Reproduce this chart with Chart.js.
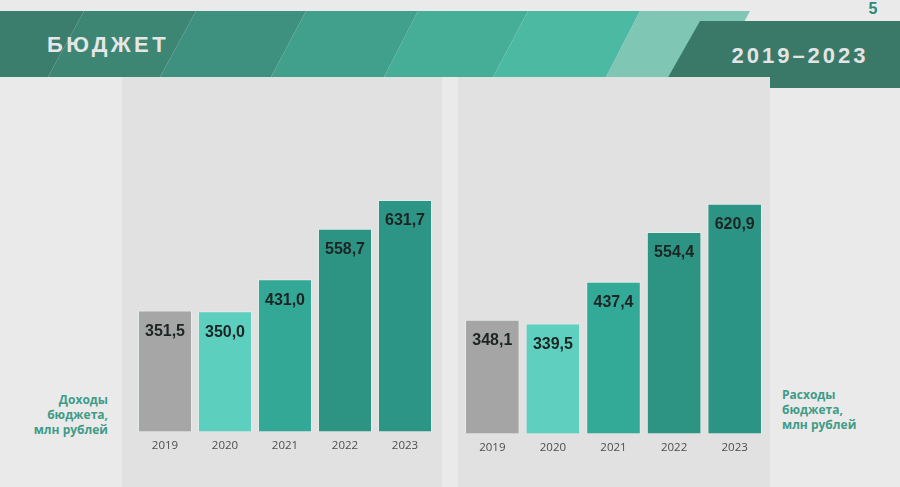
<!DOCTYPE html>
<html lang="ru">
<head>
<meta charset="utf-8">
<title>Бюджет 2019–2023</title>
<script src="https://cdn.jsdelivr.net/npm/chart.js@4.4.1/dist/chart.umd.min.js"></script>
<style>
    html, body { margin: 0; padding: 0; }
    body {
        width: 900px; height: 487px; position: relative; overflow: hidden;
        background: #eaeaea;
        font-family: "Open Sans", Arial, sans-serif;
    }
    #header { position: absolute; left: 0; top: 0; }
    .panel { position: absolute; top: 77px; height: 410px; background: #e1e1e1; }
    #panelLeft { left: 122px; width: 320px; }
    #panelRight { left: 458px; width: 312px; }
    .panel canvas { position: absolute; left: 0; top: 0; }
    .side-label {
        position: absolute;
        font: bold 12px/15px "Open Sans", sans-serif;
        color: #3f9b87;
    }
    #incomeLabel { right: 792px; top: 392px; text-align: right; }
    #expenseLabel { left: 782px; top: 387px; text-align: left; }
</style>
</head>
<body>

<svg id="header" width="900" height="95" xmlns="http://www.w3.org/2000/svg">
    <polygon points="0,11 84,11 48,77 0,77" fill="#3c7e6d"/>
    <polygon points="84,11 196,11 160,77 48,77" fill="#3e8674"/>
    <polygon points="196,11 306,11 271,77 160,77" fill="#3d917e"/>
    <polygon points="306,11 418,11 384,77 271,77" fill="#41a08b"/>
    <polygon points="418,11 528,11 493,77 384,77" fill="#46ad97"/>
    <polygon points="528,11 640,11 606,77 493,77" fill="#4cb9a3"/>
    <polygon points="640,11 750,11 714,77 606,77" fill="#7fc6b4"/>
    <polygon points="700,21 900,21 900,88 662,88" fill="#3a7868"/>
    <text x="47" y="52" fill="#e6e6e6" font-family="Liberation Sans, Arial, sans-serif"
          font-weight="bold" font-size="22" letter-spacing="3.4">БЮДЖЕТ</text>
    <text x="800" y="63" fill="#e4e4e4" text-anchor="middle" font-family="Liberation Sans, Arial, sans-serif"
          font-weight="bold" font-size="22" letter-spacing="3">2019–2023</text>
    <text x="873" y="14" fill="#2e8a78" text-anchor="middle" font-family="Liberation Sans, Arial, sans-serif"
          font-weight="bold" font-size="16">5</text>
</svg>

<div class="panel" id="panelLeft"><canvas id="incomeChart" width="320" height="410"></canvas></div>
<div class="panel" id="panelRight"><canvas id="expenseChart" width="312" height="410"></canvas></div>

<div class="side-label" id="incomeLabel">Доходы<br>бюджета,<br>млн рублей</div>
<div class="side-label" id="expenseLabel">Расходы<br>бюджета,<br>млн рублей</div>

<script>
// Years on the x axis
const years = ['2019', '2020', '2021', '2022', '2023'];

// Budget income, mln roubles
const incomeValues = [351.5, 350.0, 431.0, 558.7, 631.7];

// Budget expenses, mln roubles
const expenseValues = [348.1, 339.5, 437.4, 554.4, 620.9];

// One colour per year
const incomeColors = ['#a6a6a6', '#5ccfbf', '#33a897', '#2d9383', '#2c9585'];
const expenseColors = ['#a5a5a5', '#5fd0c0', '#33a998', '#2d9484', '#2c9484'];

/**
 * Format a number the Russian way: one decimal, comma separator
 */
function formatValue(value) {
    return value.toFixed(1).replace('.', ',');
}

/**
 * Draw the value inside the top of every bar
 */
const barValueLabels = {
    id: 'barValueLabels',
    afterDatasetsDraw(chart) {
        const ctx = chart.ctx;
        const meta = chart.getDatasetMeta(0);
        const values = chart.data.datasets[0].data;
        ctx.save();
        ctx.font = 'bold 16px "Liberation Sans", Arial, sans-serif';
        ctx.fillStyle = '#1d2524';
        ctx.textAlign = 'center';
        ctx.textBaseline = 'middle';
        meta.data.forEach((bar, i) => {
            ctx.fillText(formatValue(values[i]), bar.x, bar.y + 21);
        });
        ctx.restore();
    }
};

/**
 * Build one bar chart on a canvas
 */
function renderBudgetChart(canvas, values, colors, yMin, yMax, padding) {
    return new Chart(canvas, {
        type: 'bar',
        data: {
            labels: years,
            datasets: [{
                data: values,
                backgroundColor: colors,
                borderColor: 'rgba(225,242,237,0.7)',
                borderWidth: 1,
                barPercentage: 0.9,
                categoryPercentage: 1.0
            }]
        },
        options: {
            responsive: false,
            animation: false,
            devicePixelRatio: 1,
            layout: { padding: padding },
            plugins: {
                legend: { display: false },
                tooltip: { enabled: false }
            },
            scales: {
                x: {
                    grid: { display: false, drawTicks: false },
                    border: { display: false },
                    ticks: {
                        color: '#4d4d4d',
                        padding: 8,
                        font: { family: '"Open Sans", sans-serif', size: 11.5 }
                    }
                },
                y: {
                    display: false,
                    min: yMin,
                    max: yMax
                }
            }
        },
        plugins: [barValueLabels]
    });
}

document.addEventListener('DOMContentLoaded', function() {
    renderBudgetChart(document.getElementById('incomeChart'), incomeValues, incomeColors,
        46, 700, { left: 13, right: 7, top: 96, bottom: 26 });
    renderBudgetChart(document.getElementById('expenseChart'), expenseValues, expenseColors,
        82, 700, { left: 4, right: 5, top: 93, bottom: 24 });
});
</script>
</body>
</html>
